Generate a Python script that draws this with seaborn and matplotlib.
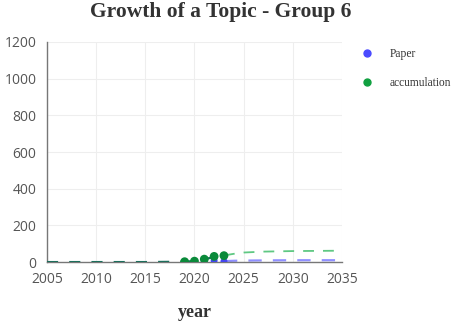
import matplotlib
matplotlib.use("Agg")
import matplotlib.pyplot as plt
import seaborn as sns
import pandas as pd

# observed values
years_obs = [2019, 2020, 2021, 2022, 2023]
paper_obs = [1, 3, 6, 8, 4]
accum_obs = [2, 5, 16, 31, 35]

# fitted / forecast curve
years_fit = [2005, 2010, 2015, 2019, 2020, 2021, 2022, 2023]
accum_fit = [0, 0, 0, 2, 6, 15, 28, 36]
years_fc = [2023, 2024, 2025, 2027, 2030, 2035]
accum_fc = [36, 45, 52, 57, 60, 62]
paper_fc = [5, 7, 8, 9, 10, 10]

sns.set_style("white")
fig = plt.figure(figsize=(4.63, 3.28), dpi=100)
ax = fig.add_axes([0.1015, 0.201, 0.637, 0.671])

df_fit = pd.DataFrame({"year": years_fit, "value": accum_fit})
df_fc = pd.DataFrame({"year": years_fc, "accum": accum_fc, "paper": paper_fc})

# historic fit line (blue and green overlapping -> dark teal)
sns.lineplot(data=df_fit, x="year", y="value", ax=ax, color="#1c6f5c",
             linestyle=(0, (5, 5)), linewidth=1.6, zorder=5)
sns.lineplot(data=df_fc, x="year", y="paper", ax=ax, color="#8f8fff",
             linestyle=(0, (6, 5)), linewidth=1.6)
sns.lineplot(data=df_fc, x="year", y="accum", ax=ax, color="#5fc883",
             linestyle=(0, (6, 5)), linewidth=1.3)

df_obs = pd.DataFrame({"year": years_obs, "Paper": paper_obs, "accumulation": accum_obs})
sns.scatterplot(data=df_obs, x="year", y="Paper", ax=ax, color="#4545f0",
                s=25, edgecolor="none", zorder=3)
sns.scatterplot(data=df_obs, x="year", y="accumulation", ax=ax, color="#0a8a3a",
                s=40, edgecolor="none", zorder=6)

ax.set_xlim(2005, 2035)
ax.set_ylim(0, 1200)
ax.set_xticks(range(2005, 2036, 5))
ax.set_yticks(range(0, 1201, 200))
ax.grid(True, color="#eeeeee", linewidth=0.8)
for s in ["top", "right"]:
    ax.spines[s].set_visible(False)
for s in ["left", "bottom"]:
    ax.spines[s].set_color("#777777")
    ax.spines[s].set_linewidth(1.0)
ax.tick_params(axis="both", direction="out", length=4, width=0.8, colors="#777777",
               labelcolor="#555555", labelsize=10)
for lab in ax.get_xticklabels() + ax.get_yticklabels():
    lab.set_family("Open Sans")

ax.set_ylabel("")
ax.set_xlabel("year", family="Liberation Serif", fontweight="bold", fontsize=13,
              color="#333333", labelpad=12)

fig.suptitle("Growth of a Topic - Group 6", x=0.477, y=0.995, family="Liberation Serif",
             fontweight="bold", fontsize=15.5, color="#333333")

handles = [
    plt.Line2D([], [], marker="o", linestyle="", color="#4a4aff", markersize=5),
    plt.Line2D([], [], marker="o", linestyle="", color="#10a040", markersize=5),
]
leg = fig.legend(handles, ["Paper", "accumulation"], loc="upper left",
                 bbox_to_anchor=(0.745, 0.885), frameon=False,
                 prop={"family": "Liberation Serif", "size": 8.3}, labelspacing=1.45,
                 handletextpad=1.0)
for t in leg.get_texts():
    t.set_color("#333333")

fig.savefig("out.png", dpi=100)
